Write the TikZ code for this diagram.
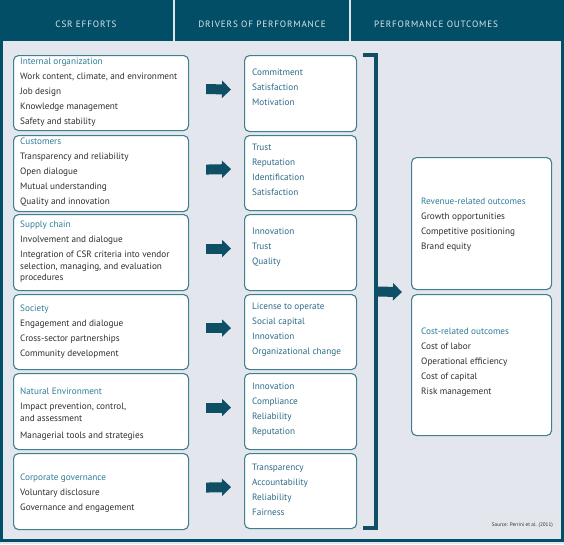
\documentclass[tikz,border=0pt]{standalone}
\usepackage{fontspec}
\setmainfont{PT Sans}
\usetikzlibrary{arrows.meta,calc}
\definecolor{hdr}{HTML}{024E66}
\definecolor{bgc}{HTML}{E3E7ED}
\definecolor{boxc}{HTML}{3F7F8E}
\definecolor{ttlc}{HTML}{2E7C99}
\definecolor{itemc}{HTML}{2E2E2E}
\definecolor{midc}{HTML}{2B6A87}
\definecolor{arrc}{HTML}{0E4F66}
\definecolor{hdtxt}{HTML}{DCE6EB}
\newcommand{\ttl}[1]{\textcolor{ttlc}{#1}}
\begin{document}
\begin{tikzpicture}[x=1pt,y=-1pt,
  box/.style={draw=boxc, line width=1.1pt, fill=white, rounded corners=5pt, anchor=north west, inner sep=0pt},
  txt/.style={anchor=north west, align=left, inner sep=0pt, font=\fontsize{9.2}{15}\selectfont, text=itemc},
  midtxt/.style={txt, text=midc},
  hdrtxt/.style={font=\fontsize{9.2}{10}\selectfont\addfontfeatures{LetterSpace=9}, text=hdtxt},
  bigarrow/.style={draw=arrc, line width=10pt, -{Triangle[length=9pt,width=17pt]}},
  bracketline/.style={draw=arrc, line width=3.5pt, line join=miter}]
\useasboundingbox (0,0) rectangle (564,544);
% background and header
\fill[bgc] (0,0) rectangle (564,544);
\fill[hdr] (0,0) rectangle (564,41);
\draw[hdtxt, line width=1.5pt] (174,0) -- (174,41);
\draw[hdtxt, line width=1.5pt] (350,0) -- (350,41);
\node[hdrtxt] (h1) at (86,24) {CSR EFFORTS};
\node[hdrtxt] (h2) at (262,24) {DRIVERS OF PERFORMANCE};
\node[hdrtxt] (h3) at (436,24) {PERFORMANCE OUTCOMES};
\draw[hdr, line width=3pt] (1.5,0) -- (1.5,540.5) -- (562.5,540.5) -- (562.5,0);
% left boxes
\node[box, minimum width=175, minimum height=75] (l1) at (13,55) {};
\node[box, minimum width=175, minimum height=76] (l2) at (13,135) {};
\node[box, minimum width=175, minimum height=76] (l3) at (13,214) {};
\node[box, minimum width=175, minimum height=75] (l4) at (13,294) {};
\node[box, minimum width=175, minimum height=76] (l5) at (13,373) {};
\node[box, minimum width=175, minimum height=76] (l6) at (13,453) {};
% middle boxes
\node[box, minimum width=112, minimum height=76] (m1) at (244,55) {};
\node[box, minimum width=112, minimum height=75] (m2) at (244,135) {};
\node[box, minimum width=112, minimum height=76] (m3) at (244,214) {};
\node[box, minimum width=112, minimum height=75] (m4) at (244,294) {};
\node[box, minimum width=112, minimum height=76] (m5) at (244,373) {};
\node[box, minimum width=112, minimum height=75] (m6) at (244,453) {};
% right boxes
\node[box, minimum width=140, minimum height=132] (r1) at (411,157) {};
\node[box, minimum width=140, minimum height=141] (r2) at (411,294) {};
% left texts
\node[txt] (lt1) at (20,58) {\ttl{Internal organization}\\Work content, climate, and environment\\Job design\\Knowledge management\\Safety and stability};
\node[txt] (lt2) at (20,138) {\ttl{Customers}\\Transparency and reliability\\Open dialogue\\Mutual understanding\\Quality and innovation};
\node[txt] (lt3) at (20,221) {\ttl{Supply chain}\\Involvement and dialogue\\Integration of CSR criteria into vendor\\[-3.5pt]selection, managing, and evaluation\\[-3.5pt]procedures};
\node[txt] (lt4) at (20,305) {\ttl{Society}\\Engagement and dialogue\\Cross-sector partnerships\\Community development};
\node[txt] (lt5) at (20,388) {\ttl{Natural Environment}\\Impact prevention, control,\\[-3.5pt]and assessment\\[2pt]Managerial tools and strategies};
\node[txt] (lt6) at (20,474) {\ttl{Corporate governance}\\Voluntary disclosure\\Governance and engagement};
% middle texts
\node[midtxt] (mt1) at (252,69) {Commitment\\Satisfaction\\Motivation};
\node[midtxt] (mt2) at (252,144) {Trust\\Reputation\\Identification\\Satisfaction};
\node[midtxt] (mt3) at (252,228) {Innovation\\Trust\\Quality};
\node[midtxt] (mt4) at (252,303) {License to operate\\Social capital\\Innovation\\Organizational change};
\node[midtxt] (mt5) at (252,383) {Innovation\\Compliance\\Reliability\\Reputation};
\node[midtxt] (mt6) at (252,464) {Transparency\\Accountability\\Reliability\\Fairness};
% right texts
\node[txt] (rt1) at (421,198) {\ttl{Revenue-related outcomes}\\Growth opportunities\\Competitive positioning\\Brand equity};
\node[txt] (rt2) at (421,328) {\ttl{Cost-related outcomes}\\Cost of labor\\Operational efficiency\\Cost of capital\\Risk management};
% arrows
\foreach \i in {1,...,6}{
  \draw[bigarrow] ($(l\i.east)+(17,-4)$) -- ($(m\i.west)+(-13,-4)$);
}
% bracket
\coordinate (bt) at (363,55);
\coordinate (bb) at (363,528);
\coordinate (btr) at (376,55);
\coordinate (bbr) at (376,528);
\draw[bracketline] (bt) -- (btr) -- (bbr) -- (bb);
\coordinate (bm) at (376,291.5);
\draw[bigarrow] (bm) -- ($(r1.south west)!0.5!(r2.north west)+(-9,0)$);
% source
\node[anchor=east, font=\fontsize{5.2}{6}\selectfont, text=itemc, inner sep=0pt] (src) at (553,525) {Source: Perrini et al. (2011)};
\end{tikzpicture}
\end{document}
